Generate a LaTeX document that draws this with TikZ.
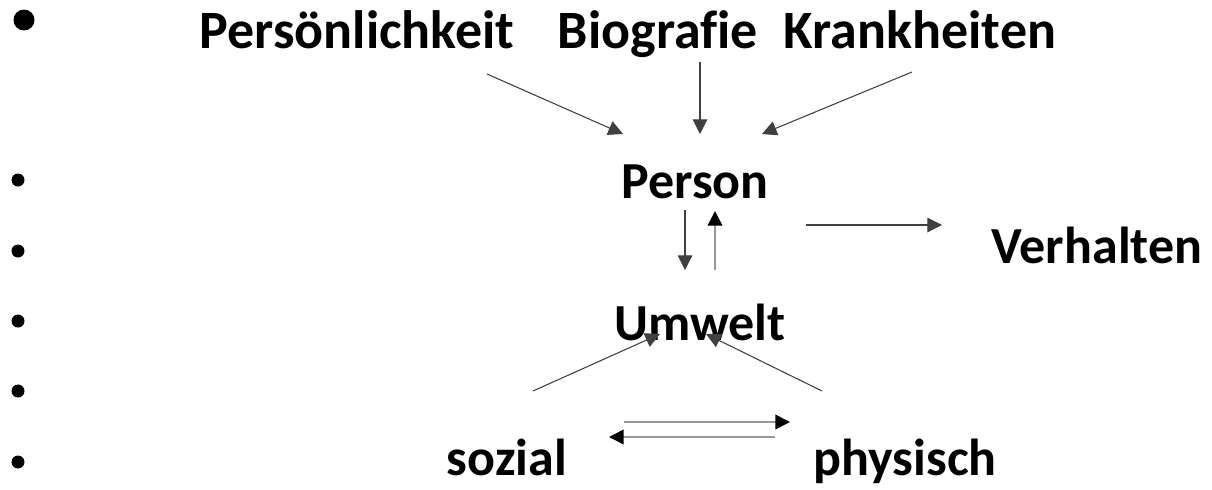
\documentclass[tikz,border=0pt]{standalone}
\usepackage{fontspec}
\setmainfont{Carlito}[Ligatures=NoCommon]
\usetikzlibrary{arrows.meta}
\begin{document}
\begin{tikzpicture}[x=0.75pt,y=-0.75pt,
  lbl/.style={font=\fontsize{39}{44}\selectfont\bfseries, inner sep=0pt, anchor=base},
  toplbl/.style={lbl, font=\fontsize{40.5}{44}\selectfont\bfseries},
  dot/.style={fill=black, draw=none},
  conn/.style={draw=black!75, line width=0.8pt, -{Triangle[length=11pt,width=11pt]}},
  lightconn/.style={draw=black!40, line width=1.2pt, -{Triangle[length=11pt,width=11pt,fill=black,color=black]}}
]
\useasboundingbox (0,0) rectangle (1212,489);

% bullets of the list
\fill[dot] (24,20) circle (10.5);
\foreach \yy in {180,251,321,391,462} \fill[dot] (18,\yy) circle (6.5);

% labels
\node[toplbl] (pers) at (357,48) {Persönlichkeit};
\node[toplbl] (bio)  at (658,48) {Biografie};
\node[toplbl] (krank) at (920,48) {Krankheiten};
\node[lbl] (person) at (695,198) {Person};
\node[lbl] (verh)   at (1097,263) {Verhalten};
\node[lbl] (umwelt) at (700,340) {Umwelt};
\node[lbl] (sozial) at (507,475) {sozial};
\node[lbl] (phys)   at (905,475) {physisch};

% connector end points
\coordinate (persS) at (487,74);   \coordinate (persE) at (623,134);
\coordinate (bioS)  at (700,62);   \coordinate (bioE)  at (700,134);
\coordinate (kraS)  at (912,72);   \coordinate (kraE)  at (762,134);
\coordinate (pdS)   at (685,210);  \coordinate (pdE)   at (685,270);
\coordinate (upS)   at (715,270);  \coordinate (upE)   at (715,211);
\coordinate (vS)    at (806,225);  \coordinate (vE)    at (942,225);
\coordinate (soS)   at (533,391);  \coordinate (soE)   at (660,334);
\coordinate (phS)   at (822,391);  \coordinate (phE)   at (706,334);
\coordinate (rS)    at (624,422);  \coordinate (rE)    at (790,422);
\coordinate (lS)    at (775,437);  \coordinate (lE)    at (609,437);

\draw[conn] (persS) -- (persE);
\draw[conn] (bioS) -- (bioE);
\draw[conn] (kraS) -- (kraE);
\draw[conn] (pdS) -- (pdE);
\draw[lightconn] (upS) -- (upE);
\draw[conn] (vS) -- (vE);
\draw[conn] (soS) -- (soE);
\draw[conn] (phS) -- (phE);
\draw[lightconn] (rS) -- (rE);
\draw[lightconn] (lS) -- (lE);
\end{tikzpicture}
\end{document}
